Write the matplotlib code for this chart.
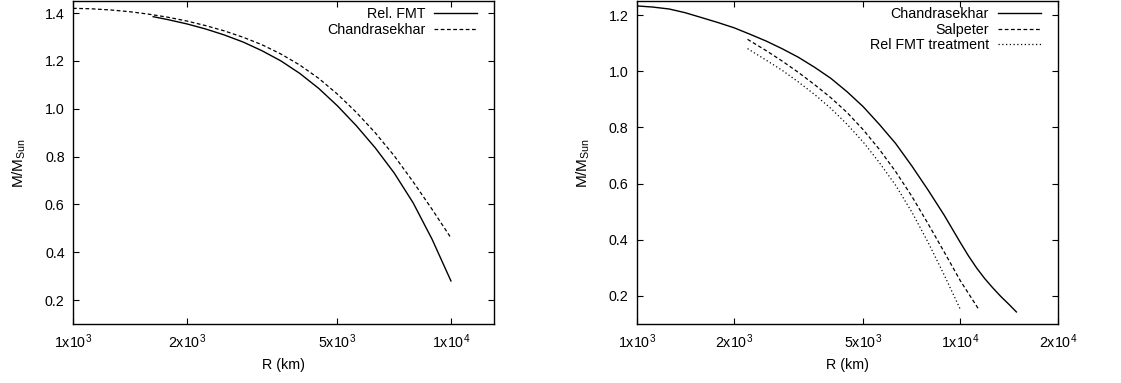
import matplotlib
matplotlib.use("Agg")
import matplotlib.pyplot as plt
from matplotlib.ticker import FixedLocator, NullLocator, FormatStrFormatter

plt.rcParams["font.family"] = ["Liberation Sans", "DejaVu Sans"]
plt.rcParams["mathtext.fontset"] = "custom"
plt.rcParams["mathtext.rm"] = "Liberation Sans"
plt.rcParams["mathtext.it"] = "Liberation Sans:italic"

# Left panel: Rel. FMT vs Chandrasekhar (R in km, M in solar masses)
r_fmt_left = [1630, 1780, 2000, 2240, 2510, 2820, 3160, 3550, 3980, 4470, 5010,
              5620, 6310, 7080, 7940, 8910, 10000]
m_fmt_left = [1.385, 1.373, 1.355, 1.334, 1.309, 1.279, 1.243, 1.200, 1.148, 1.085, 1.012,
              0.929, 0.836, 0.731, 0.607, 0.455, 0.280]
r_ch_left = [1000, 1120, 1260, 1410, 1580, 1780, 2000, 2240, 2510, 2820, 3160,
             3550, 3980, 4470, 5010, 5620, 6310, 7080, 7940, 8910, 10000]
m_ch_left = [1.420, 1.418, 1.413, 1.406, 1.396, 1.383, 1.367, 1.348, 1.326, 1.299, 1.268,
             1.229, 1.183, 1.127, 1.061, 0.985, 0.899, 0.803, 0.695, 0.580, 0.460]

# Right panel: Chandrasekhar, Salpeter, Rel FMT treatment
r_ch_right = [1000, 1120, 1260, 1410, 1580, 1780, 2000, 2240, 2510, 2820, 3160,
              3550, 3980, 4470, 5010, 5620, 6310, 7080, 7940, 8910, 10000,
              10590, 11220, 11890, 12590, 13340, 14130, 14900]
m_ch_right = [1.233, 1.229, 1.222, 1.209, 1.192, 1.174, 1.155, 1.132, 1.108, 1.080, 1.050,
              1.014, 0.975, 0.927, 0.874, 0.811, 0.743, 0.663, 0.578, 0.488, 0.390,
              0.343, 0.300, 0.262, 0.229, 0.198, 0.170, 0.143]
r_salp = [2200, 2510, 2820, 3160, 3550, 3980, 4470, 5010, 5620, 6310, 7080,
          7940, 8910, 10000, 11400]
m_salp = [1.114, 1.074, 1.036, 0.996, 0.952, 0.906, 0.853, 0.792, 0.722, 0.643, 0.555,
          0.458, 0.357, 0.254, 0.152]
r_rel = [2200, 2510, 2820, 3160, 3550, 3980, 4470, 5010, 5620, 6310, 7080,
         7940, 8910, 10000]
m_rel = [1.081, 1.040, 1.003, 0.962, 0.917, 0.868, 0.811, 0.748, 0.675, 0.594, 0.499,
         0.392, 0.275, 0.152]

xticks_left = [1000, 2000, 5000, 10000]
xticks_right = [1000, 2000, 5000, 10000, 20000]
xlabels = {1000: "1x10$^{3}$", 2000: "2x10$^{3}$", 5000: "5x10$^{3}$",
           10000: "1x10$^{4}$", 20000: "2x10$^{4}$"}

fig = plt.figure(figsize=(11.21, 3.83), dpi=100)
ax1 = fig.add_axes([0.0651, 0.154, 0.3756, 0.843])
ax2 = fig.add_axes([0.568, 0.154, 0.3756, 0.843])

ax1.plot(r_fmt_left, m_fmt_left, color="black", lw=1.0, label="Rel. FMT")
ax1.plot(r_ch_left, m_ch_left, color="black", lw=0.9, dashes=(3, 2), label="Chandrasekhar")
ax1.set_xlim(1000, 13000)
ax1.set_ylim(0.1, 1.45)
ax1.set_yticks([0.2, 0.4, 0.6, 0.8, 1.0, 1.2, 1.4])

ax2.plot(r_ch_right, m_ch_right, color="black", lw=1.0, label="Chandrasekhar")
ax2.plot(r_salp, m_salp, color="black", lw=0.9, dashes=(3, 2), label="Salpeter")
ax2.plot(r_rel, m_rel, color="black", lw=0.9, dashes=(1, 2), label="Rel FMT treatment")
ax2.set_xlim(1000, 20000)
ax2.set_ylim(0.1, 1.25)
ax2.set_yticks([0.2, 0.4, 0.6, 0.8, 1.0, 1.2])

for ax, xt in [(ax1, xticks_left), (ax2, xticks_right)]:
    ax.set_xscale("log")
    ax.xaxis.set_major_locator(FixedLocator(xt))
    ax.xaxis.set_minor_locator(NullLocator())
    ax.set_xticklabels([xlabels[t] for t in xt])
    ax.yaxis.set_major_formatter(FormatStrFormatter("%.1f"))
    ax.tick_params(direction="in", length=4, width=0.8, top=True, right=True,
                   labelsize=10.3, pad=6)
    for s in ax.spines.values():
        s.set_linewidth(1.0)
    ax.set_xlabel("R (km)", fontsize=10.3, labelpad=5)
    ax.set_ylabel(r"M/M$_{\mathrm{Sun}}$", fontsize=11, labelpad=12)
    leg = ax.legend(loc="upper right", bbox_to_anchor=(0.976, 1.003), frameon=False,
                    markerfirst=False, fontsize=10.3, handlelength=3.0,
                    handletextpad=0.6, labelspacing=0.1, borderaxespad=0.3,
                    borderpad=0.2)
    for t in leg.get_texts():
        t.set_ha("right")

fig.savefig("out.png", dpi=100)
